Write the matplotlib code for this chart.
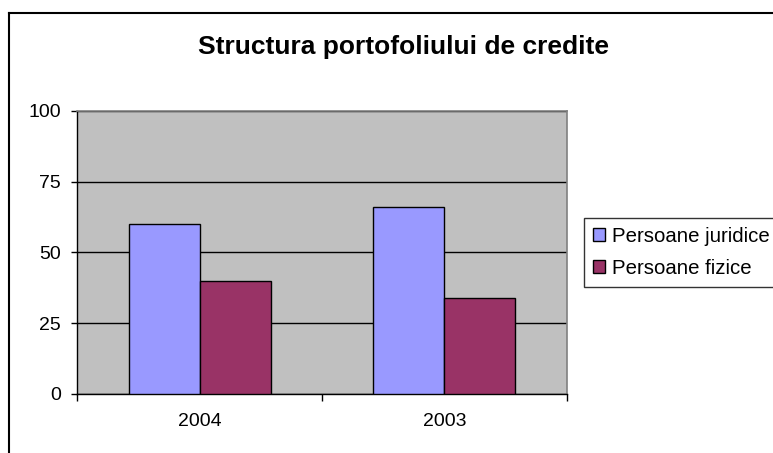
import matplotlib
matplotlib.use("Agg")
import matplotlib.pyplot as plt
from matplotlib.lines import Line2D
import numpy as np

plt.rcParams['font.family'] = ['Liberation Sans', 'DejaVu Sans']

categories = ["2004", "2003"]
series_names = ["Persoane juridice", "Persoane fizice"]
juridice = [60, 66]
fizice = [40, 34]
y_ticks = [0, 25, 50, 75, 100]
title = "Structura portofoliului de credite"

W, H = 773, 453
fig = plt.figure(figsize=(W / 100, H / 100), dpi=100)
fig.patch.set_facecolor("white")

ax = fig.add_axes([77.3 / W, 1 - 394 / H, (566.7 - 77.3) / W, (394 - 110.7) / H])
ax.set_facecolor("#C0C0C0")

x = np.arange(len(categories))
bw = 0.29
ax.bar(x - bw / 2, juridice, bw, color="#9999FF", edgecolor="black", linewidth=1, zorder=3, label=series_names[0])
ax.bar(x + bw / 2, fizice, bw, color="#993366", edgecolor="black", linewidth=1, zorder=3, label=series_names[1])

ax.set_xlim(-0.5, 1.5)
ax.set_ylim(0, 100)
ax.set_yticks(y_ticks)
ax.set_yticklabels([str(v) for v in y_ticks], fontsize=14)
ax.yaxis.grid(True, color="black", linewidth=1)
ax.set_axisbelow(True)

ax.set_xticks(x)
ax.set_xticklabels(categories, fontsize=14)
ax.set_xticks([-0.5, 0.5, 1.5], minor=True)
ax.tick_params(axis="x", which="major", length=0, pad=14)
ax.tick_params(axis="x", which="minor", length=5, width=1, color="black", direction="out")
ax.tick_params(axis="y", length=4, width=1, direction="out", pad=8)

for s in ["top", "right"]:
    ax.spines[s].set_color("#808080")
    ax.spines[s].set_linewidth(1.2)
for s in ["left", "bottom"]:
    ax.spines[s].set_color("black")
    ax.spines[s].set_linewidth(1)

fig.text(404 / W, 1 - 47 / H, title, fontsize=19, fontweight="bold", ha="center", va="center")

leg = fig.legend(loc="upper left", bbox_to_anchor=(584.3 / W, 1 - 218.3 / H), borderaxespad=0,
                 fontsize=14.7, frameon=True, fancybox=False, edgecolor="black",
                 handlelength=0.6, handleheight=0.6, handletextpad=0.32,
                 labelspacing=0.65, borderpad=0.42)
leg.get_frame().set_linewidth(1)

# chart-area border (left and top visible)
fig.add_artist(Line2D([8.5 / W, 8.5 / W], [0, 1 - 13 / H], transform=fig.transFigure, color="black", linewidth=1.5))
fig.add_artist(Line2D([8.5 / W, 1], [1 - 13 / H, 1 - 13 / H], transform=fig.transFigure, color="black", linewidth=1.5))

fig.savefig("out.png", dpi=100)
